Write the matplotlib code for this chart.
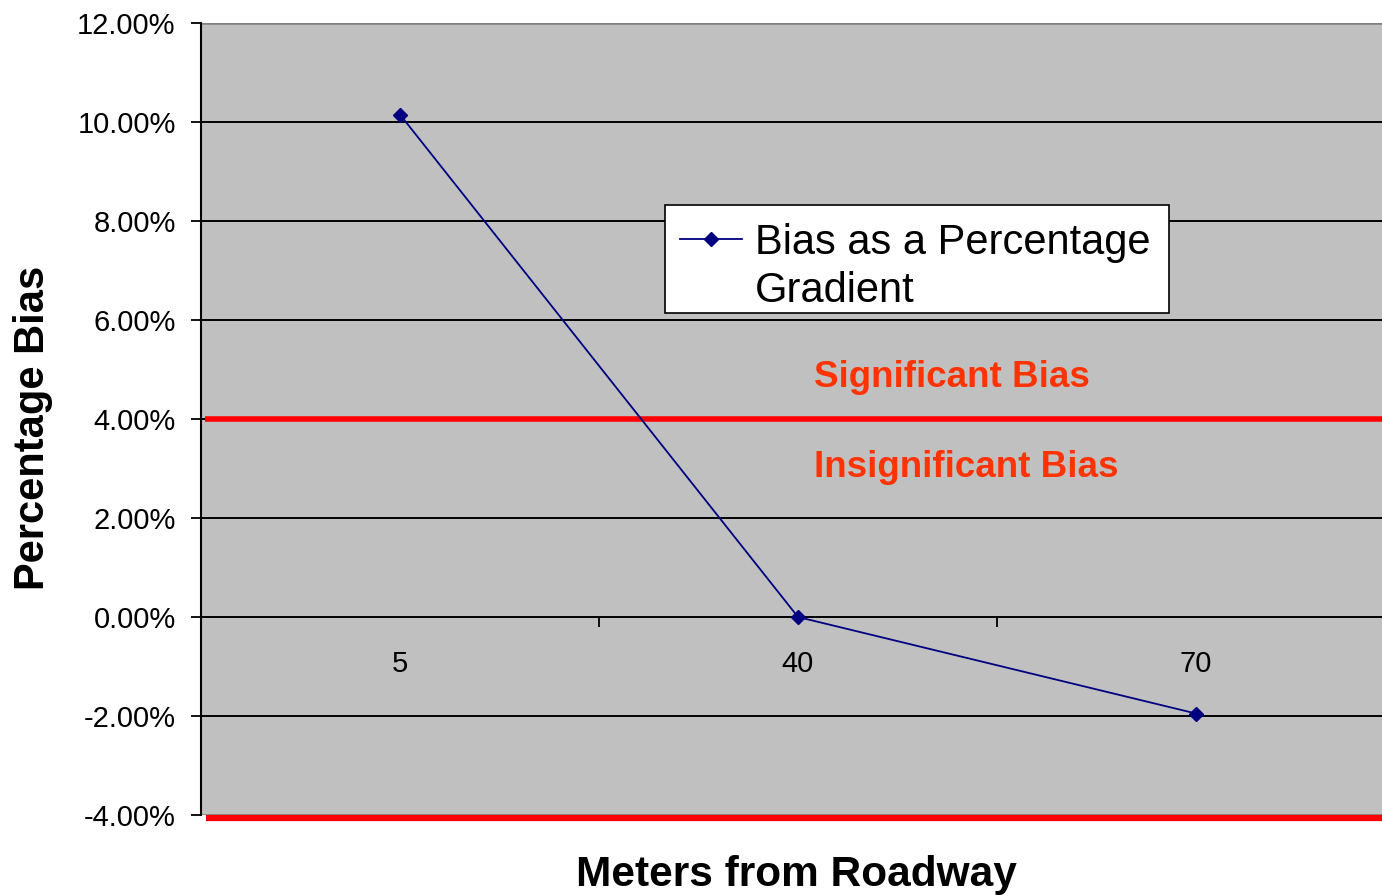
import matplotlib.pyplot as plt
from matplotlib.lines import Line2D
from matplotlib.patches import Rectangle
import numpy as np

# data
categories = ['5', '40', '70']
bias_pct = [10.15, 0.0, -1.95]          # percent
y_ticks = [-4, -2, 0, 2, 4, 6, 8, 10, 12]
threshold = 4.0                          # significant / insignificant split
bottom_line = -4.06                      # red line along the bottom edge

plt.rcParams['font.family'] = ['Liberation Sans', 'DejaVu Sans']

fig = plt.figure(figsize=(13.82, 8.96), dpi=100)
W, H = 1382, 896
# plot area runs past the right edge of the picture, like the original
ax = fig.add_axes([201 / W, 1 - 815 / H, 1194 / W, 792 / H])
ax.set_facecolor('#C0C0C0')

x = np.arange(1, len(categories) + 1)
ax.set_xlim(0.5, len(categories) + 0.5)
ax.set_ylim(-4, 12)

# gridlines
for yv in y_ticks[1:-1]:
    ax.axhline(yv, color='black', lw=1.4, zorder=1)
ax.axhline(12, color='#808080', lw=1.8, zorder=1)
ax.axhline(-4, color='#808080', lw=1.8, zorder=1)

# red threshold lines
ax.plot([0.51, 4], [threshold, threshold], color='#FF0000', lw=4, zorder=2,
        solid_capstyle='butt')
ax.plot([0.513, 4], [bottom_line, bottom_line], color='#FF0000', lw=4.5, zorder=2,
        solid_capstyle='butt', clip_on=False)

# series
ax.plot(x, bias_pct, color='#000080', lw=1.3, marker='D', markersize=7.5, zorder=4)

# y axis
ax.set_yticks(y_ticks)
ax.set_yticklabels(['%.2f%%' % v for v in y_ticks], fontsize=21)
ax.tick_params(axis='y', direction='out', length=7.2, width=1.3, pad=11)
ax.spines['left'].set_linewidth(1.5)
ax.spines['left'].set_color('black')
for s in ['top', 'right']:
    ax.spines[s].set_visible(False)

# x axis crosses at zero, ticks between categories
ax.spines['bottom'].set_position(('data', 0))
ax.spines['bottom'].set_visible(False)
ax.set_xticks([1.5, 2.5])
ax.set_xticklabels([])
ax.tick_params(axis='x', direction='out', length=7.2, width=1.3)
for xi, lab in zip(x, categories):
    ax.text(xi, -0.94, lab, ha='center', va='center', fontsize=21)

# region labels
ax.text(2.04, 4.84, 'Significant Bias', color='#FF3300', fontsize=26.5,
        fontweight='bold', ha='left', va='center')
ax.text(2.04, 3.02, 'Insignificant Bias', color='#FF3300', fontsize=26.5,
        fontweight='bold', ha='left', va='center')

# legend box drawn separately so its size matches the original
box = Rectangle((665 / W, 1 - 313 / H), 504 / W, 108 / H, transform=fig.transFigure,
                facecolor='white', edgecolor='black', lw=1.2, zorder=4.5,
                clip_on=False)
ax.add_patch(box)

# legend: handle sits on the first line of the wrapped label
handles = [Line2D([], [], color='#000080', lw=1.3, marker='D', markersize=7.5),
           Line2D([], [], color='none')]
labels = ['Bias as a Percentage', 'Gradient']
leg = ax.legend(handles, labels, loc='upper left',
                bbox_to_anchor=(665 / W, 1 - 208 / H),
                bbox_transform=fig.transFigure, fontsize=30, frameon=False,
                borderaxespad=0, borderpad=0.35, handlelength=1.5,
                handletextpad=0.3, labelspacing=0.2)
leg.set_zorder(6)

fig.text(33 / W, 1 - 428 / H, 'Percentage Bias', rotation=90, fontsize=30,
         fontweight='bold', ha='center', va='center')
fig.text(796 / W, 1 - 875 / H, 'Meters from Roadway', fontsize=30.5,
         fontweight='bold', ha='center', va='center')

fig.savefig('out.png', dpi=100, facecolor='white')
